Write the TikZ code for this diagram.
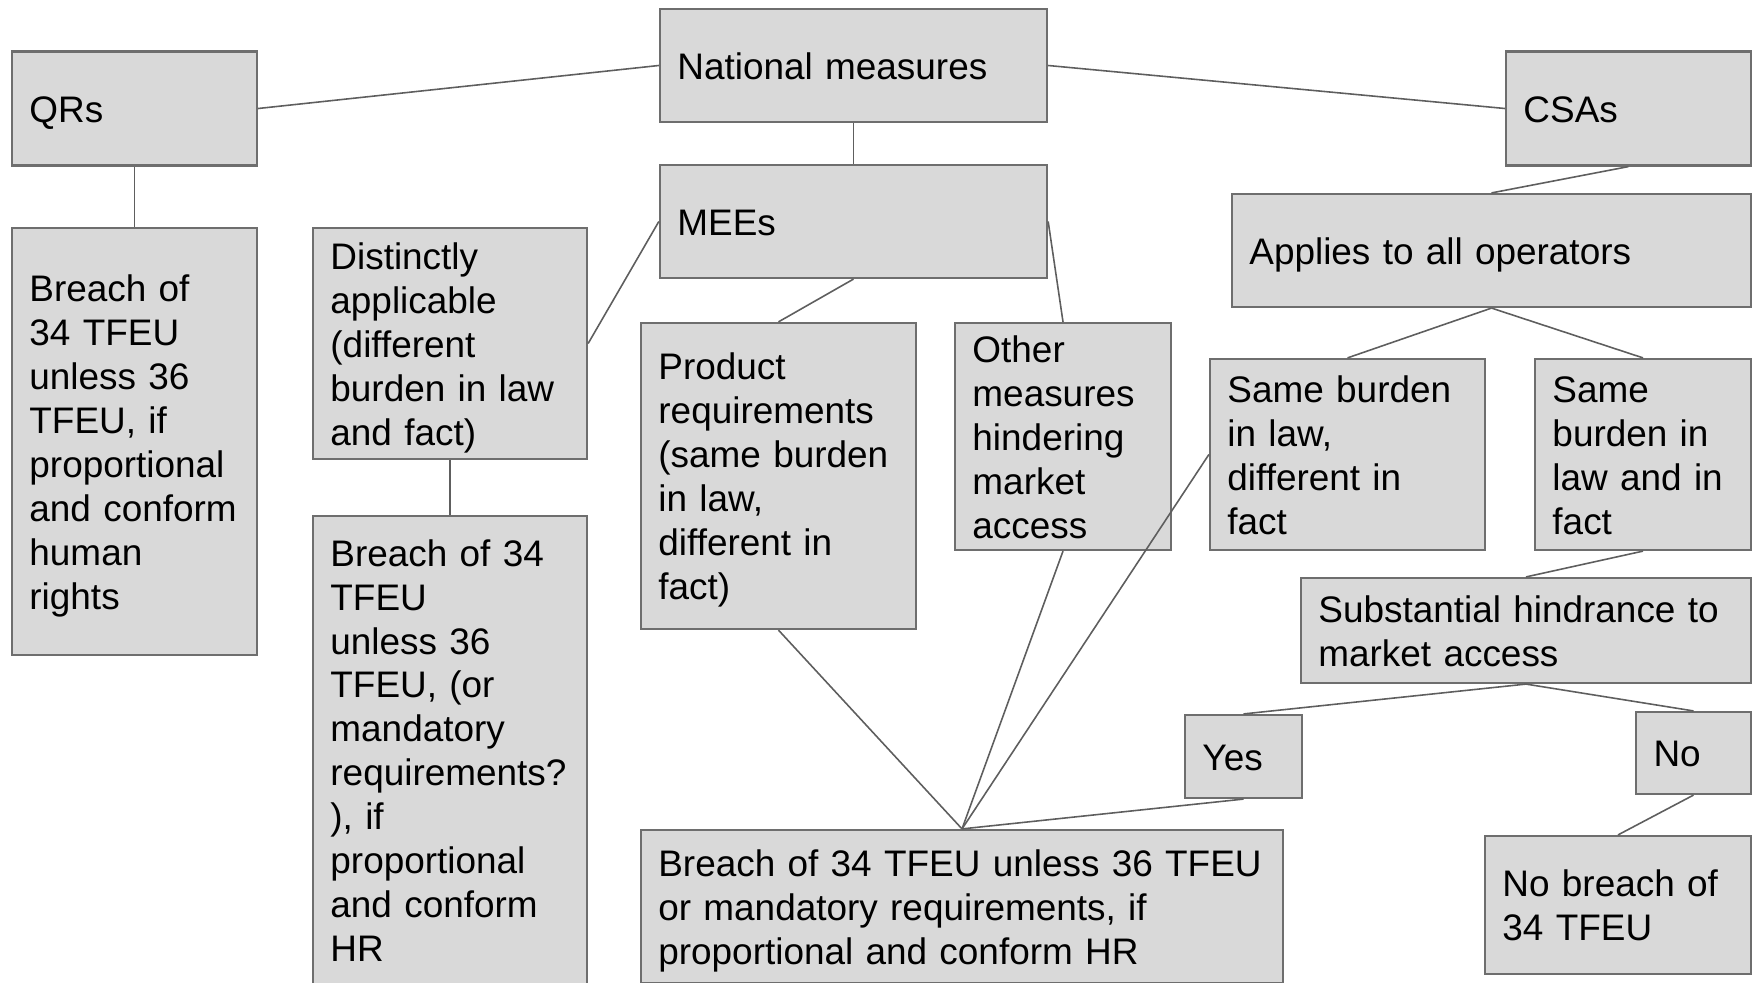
\documentclass[tikz,border=0pt]{standalone}
\usepackage{fontspec}
\setmainfont{Liberation Sans}
\definecolor{boxfill}{HTML}{D9D9D9}
\definecolor{boxline}{HTML}{6E6E6E}
\definecolor{linkline}{HTML}{5E5E5E}
\begin{document}
\begin{tikzpicture}[x=0.01cm, y=-0.01cm,
  box/.style={draw=boxline, line width=0.6pt, fill=boxfill, align=left,
    inner xsep=0.175cm, inner ysep=0pt,
    font=\fontsize{10.5pt}{12.5pt}\selectfont,
    execute at begin node={\rule[-2.3pt]{0pt}{12.5pt}},
    execute at end node={\rule[-2.3pt]{0pt}{12.5pt}}},
  link/.style={draw=linkline, line width=0.45pt}]
\clip (0,0) rectangle (1752,982);
% top row
\node[box, minimum width=2.45cm, minimum height=1.14cm, text width=2.10cm] (qrs) at (134.5,108.5) {QRs};
\node[box, minimum width=3.87cm, minimum height=1.13cm, text width=3.52cm] (nat) at (853.5,65.5) {National measures};
\node[box, minimum width=2.45cm, minimum height=1.14cm, text width=2.10cm] (csas) at (1628.5,108.5) {CSAs};
% second level
\node[box, minimum width=2.45cm, minimum height=4.27cm, text width=2.10cm] (qrbreach) at (134.5,441.5) {Breach of\\34 TFEU\\unless 36\\TFEU, if\\proportional\\and~conform\\human\\rights};
\node[box, minimum width=2.74cm, minimum height=2.31cm, text width=2.39cm] (distinct) at (450,343.5) {Distinctly\\applicable\\(different\\burden~in~law\\and fact)};
\node[box, minimum width=3.87cm, minimum height=1.13cm, text width=3.52cm] (mees) at (853.5,221.5) {MEEs};
\node[box, minimum width=5.19cm, minimum height=1.13cm, text width=4.84cm] (applies) at (1491.5,250.5) {Applies to all operators};
% third level
\node[box, minimum width=2.75cm, minimum height=3.06cm, text width=2.40cm] (product) at (778.5,476) {Product\\requirements\\(same burden\\in law,\\different in\\fact)};
\node[box, minimum width=2.16cm, minimum height=2.27cm, text width=1.81cm] (other) at (1063,436.5) {Other\\measures\\hindering\\market\\access};
\node[box, minimum width=2.75cm, minimum height=1.91cm, text width=2.40cm] (samediff) at (1347.5,454.5) {Same burden\\in law,\\different in\\fact};
\node[box, minimum width=2.16cm, minimum height=1.91cm, text width=1.81cm] (samesame) at (1643,454.5) {Same\\burden in\\law and in\\fact};
\node[box, minimum width=2.74cm, minimum height=4.68cm, text width=2.39cm] (dabreach) at (450,750) {Breach of 34\\TFEU\\unless 36\\TFEU, (or\\mandatory\\requirements?\\), if\\proportional\\and~conform\\HR};
\node[box, minimum width=4.50cm, minimum height=1.05cm, text width=4.15cm] (subst) at (1526,630.5) {Substantial hindrance to\\market access};
\node[box, minimum width=1.17cm, minimum height=0.83cm, text width=0.82cm] (yes) at (1243.5,756.5) {Yes};
\node[box, minimum width=1.15cm, minimum height=0.82cm, text width=0.80cm] (no) at (1693.5,753) {No};
% bottom
\node[box, minimum width=6.42cm, minimum height=1.53cm, text width=6.07cm] (big) at (962,906.5) {Breach of 34 TFEU unless 36 TFEU\\or mandatory requirements, if\\proportional and conform HR};
\node[box, minimum width=2.66cm, minimum height=1.38cm, text width=2.31cm] (nobreach) at (1618,905) {No breach of\\34 TFEU};

\path[link] (qrs.east) -- (nat.west);
\path[link] (nat.east) -- (csas.west);
\path[link] (nat.south) -- (mees.north);
\path[link] (qrs.south) -- (qrbreach.north);
\path[link] (distinct.east) -- (mees.west);
\path[link] (distinct.south) -- (dabreach.north);
\path[link] (mees.south) -- (product.north);
\path[link] (mees.east) -- (other.north);
\path[link] (csas.south) -- (applies.north);
\path[link] (applies.south) -- (samediff.north);
\path[link] (applies.south) -- (samesame.north);
\path[link] (samesame.south) -- (subst.north);
\path[link] (subst.south) -- (yes.north);
\path[link] (subst.south) -- (no.north);
\path[link] (no.south) -- (nobreach.north);
\path[link] (product.south) -- (big.north);
\path[link] (other.south) -- (big.north);
\path[link] (samediff.west) -- (big.north);
\path[link] (yes.south) -- (big.north);
\end{tikzpicture}
\end{document}
